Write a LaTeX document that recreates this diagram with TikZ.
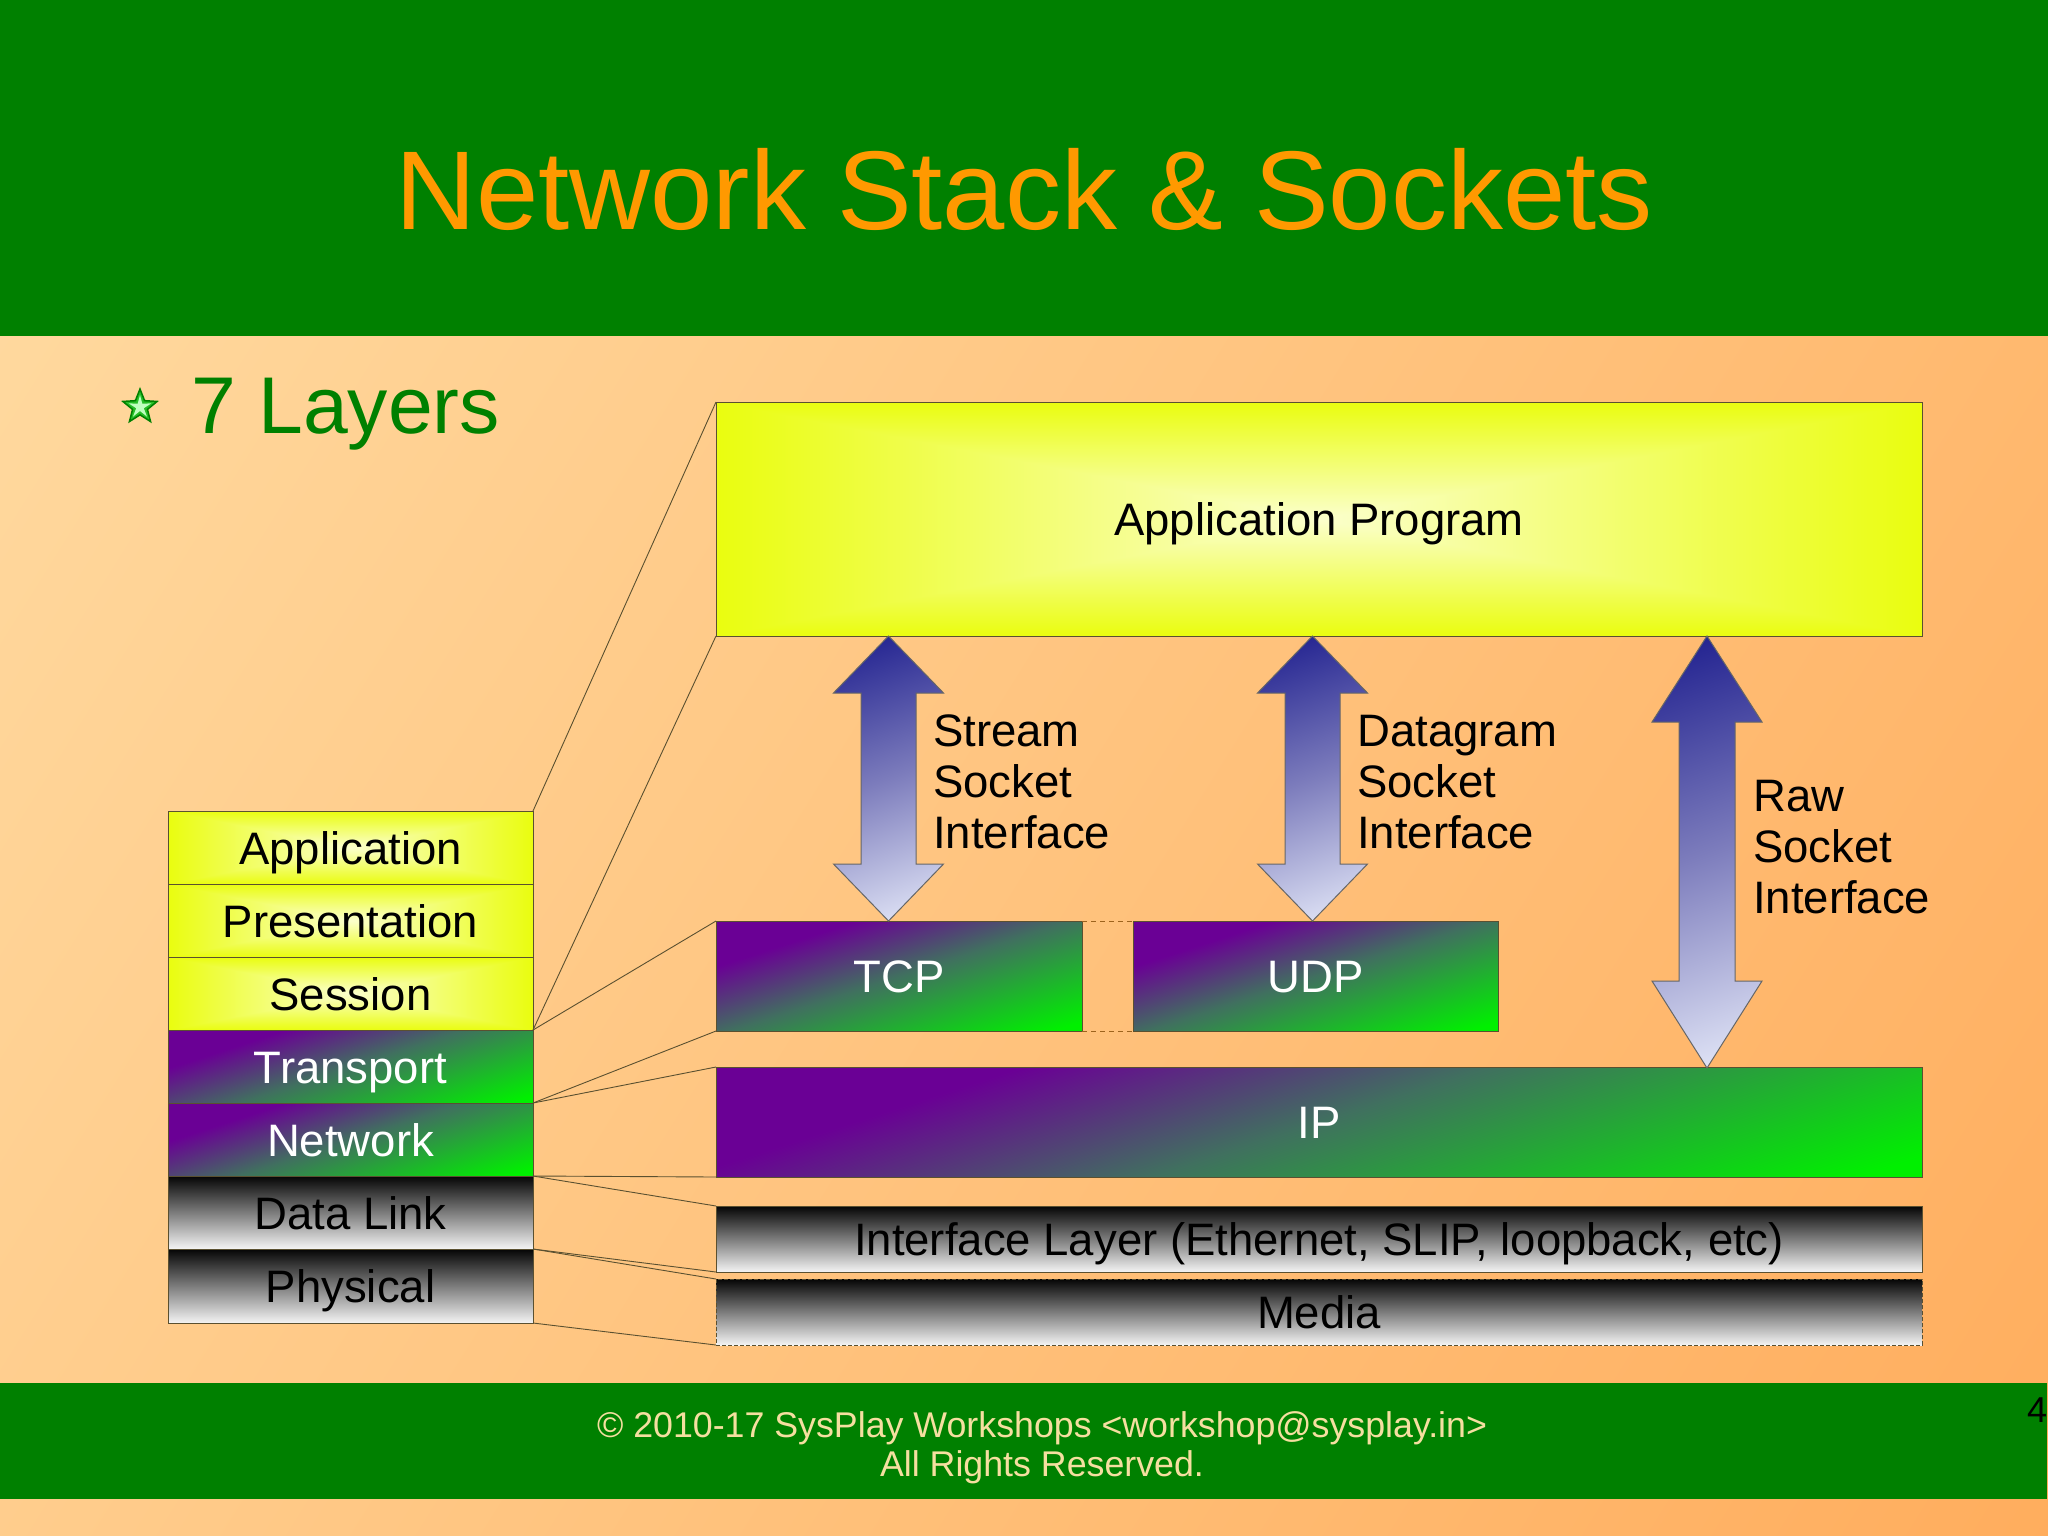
\documentclass[tikz,border=0pt]{standalone}
\usepackage{fontspec}
\setmainfont{Liberation Sans}
\usetikzlibrary{shapes.geometric}
\definecolor{hdrgreen}{HTML}{008000}
\definecolor{titleorange}{HTML}{FF9900}
\definecolor{footertext}{HTML}{F5DFA0}
\definecolor{edgecol}{HTML}{5A5030}
\definecolor{bgA}{HTML}{FFDEA6}
\definecolor{bgB}{HTML}{FFAB5A}
\definecolor{pgA}{HTML}{00F000}
\definecolor{pgM}{HTML}{40705F}
\definecolor{pgB}{HTML}{6A0095}
\definecolor{arA}{HTML}{E0E4F6}
\definecolor{arM}{HTML}{7C7CBC}
\definecolor{arB}{HTML}{222290}
\definecolor{kwA}{HTML}{F4F4F4}
\definecolor{kwB}{HTML}{050505}
\pgfdeclareverticalshading{bgshade}{100bp}{color(0bp)=(bgB); color(12bp)=(bgB); color(88bp)=(bgA); color(100bp)=(bgA)}
\pgfdeclareverticalshading{pgshade}{100bp}{color(0bp)=(pgA); color(21bp)=(pgA); color(50bp)=(pgM); color(69bp)=(pgB); color(100bp)=(pgB)}
\pgfdeclareverticalshading{arshade}{100bp}{color(0bp)=(arA); color(20bp)=(arA); color(50bp)=(arM); color(80bp)=(arB); color(100bp)=(arB)}
\pgfdeclareverticalshading{kwshade}{100bp}{color(0bp)=(kwA); color(25bp)=(kwA); color(75bp)=(kwB); color(100bp)=(kwB)}
% rectangular gradient: pale centre, saturated yellow rim
\pgfdeclarefunctionalshading{yelshade}{\pgfpoint{0bp}{0bp}}{\pgfpoint{100bp}{100bp}}{}{
 50 sub abs exch 50 sub abs 2 copy gt {pop} {exch pop} ifelse 27 div dup 1 gt {pop 1} if
 dup dup -0.075 mul 0.985 add 3 1 roll -0.01 mul 1.0 add exch -0.8 mul 0.8 add
}
\tikzset{
  layerbox/.style={draw=edgecol,line width=1pt,inner sep=0pt,outer sep=0pt,anchor=north west,
    text height=33pt,text depth=0pt,font=\fontsize{45.5}{51}\selectfont},
  yelbox/.style={layerbox,shade,shading=yelshade,text=black},
  purbox/.style={layerbox,shade,shading=pgshade,shading angle=18,text=white},
  kwbox/.style={layerbox,shade,shading=kwshade,text=black},
  sockarrow/.style={draw=black!60,line width=1pt,shade,shading=arshade,shading angle=20},
  linkline/.style={draw=edgecol,line width=.9pt},
  gapline/.style={draw=edgecol!60!orange,line width=1pt,dash pattern=on 5pt off 4pt},
  socklabel/.style={anchor=west,align=left,inner sep=0pt,font=\fontsize{45.5}{51}\selectfont,text=black},
  footertxt/.style={anchor=base,inner sep=0pt,text=footertext,font=\fontsize{35.75}{40}\selectfont},
}
\begin{document}
\begin{tikzpicture}[x=1pt,y=-1pt]
\useasboundingbox (0,0) rectangle (2048,1535);
\shade[shading=bgshade,shading angle=58] (0,0) rectangle (2048,1535);
\fill[hdrgreen] (0,0) rectangle (2048,336);
\fill[hdrgreen] (0,1383) rectangle (2047,1499);
\node[anchor=base,inner sep=0pt,text=titleorange,font=\fontsize{112}{120}\selectfont] (title) at (1024,229) {Network Stack \& Sockets};
\node[anchor=base west,inner sep=0pt,text=hdrgreen,font=\fontsize{80.5}{90}\selectfont] (sub) at (191,433) {7 Layers};
% bullet
\node[star,star points=5,star point ratio=2.3,minimum size=36pt,inner sep=0pt,fill=green!70!black!85,draw=green!50!black,line width=1.5pt] (bullet) at (140,407) {};
\node[star,star points=5,star point ratio=3,minimum size=24pt,inner sep=0pt,fill=white!75!green] (bulletin) at (140,407) {};
% OSI stack
\node[yelbox,minimum width=365pt,minimum height=73pt] (l7) at (168,811) {Application};
\node[yelbox,minimum width=365pt,minimum height=73pt] (l6) at (168,884) {Presentation};
\node[yelbox,minimum width=365pt,minimum height=73pt] (l5) at (168,957) {Session};
\node[purbox,minimum width=365pt,minimum height=73pt] (l4) at (168,1030) {Transport};
\node[purbox,minimum width=365pt,minimum height=73pt] (l3) at (168,1103) {Network};
\node[kwbox,minimum width=365pt,minimum height=73pt] (l2) at (168,1176) {Data Link};
\node[kwbox,minimum width=365pt,minimum height=74pt] (l1) at (168,1249) {Physical};
% TCP/IP stack
\node[yelbox,minimum width=1206pt,minimum height=234pt] (app) at (716,402) {Application Program};
\node[purbox,minimum width=366pt,minimum height=110pt] (tcp) at (716,921) {TCP};
\node[purbox,minimum width=365pt,minimum height=110pt] (udp) at (1133,921) {UDP};
\node[purbox,minimum width=1206pt,minimum height=110pt] (ip) at (716,1067) {IP};
\node[kwbox,minimum width=1206pt,minimum height=66pt] (iface) at (716,1206) {Interface Layer (Ethernet, SLIP, loopback, etc)};
\node[kwbox,dash pattern=on 4pt off 2pt,minimum width=1206pt,minimum height=66pt] (media) at (716,1279) {Media};
% connectors
\draw[linkline] (l7.north east) -- (app.north west);
\draw[linkline] (l5.south east) -- (app.south west);
\draw[linkline] (l5.south east) -- (tcp.north west);
\draw[linkline] (l4.south east) -- (tcp.south west);
\draw[linkline] (l4.south east) -- (ip.north west);
\draw[linkline] (l3.south east) -- (ip.south west);
\draw[linkline] (l3.south east) -- (iface.north west);
\draw[linkline] (l2.south east) -- (iface.south west);
\draw[linkline] (l2.south east) -- (media.north west);
\draw[linkline] (l1.south east) -- (media.south west);
\draw[gapline] (tcp.north east) -- (udp.north west);
\draw[gapline] (tcp.south east) -- (udp.south west);
% socket arrows
\path[sockarrow] (888.5,636) -- ++(55,57) -- ++(-27.5,0) -- ++(0,171) -- ++(27.5,0) -- ++(-55,57) -- ++(-55,-57) -- ++(27.5,0) -- ++(0,-171) -- ++(-27.5,0) -- cycle;
\path[sockarrow] (1312.5,636) -- ++(55,57) -- ++(-27.5,0) -- ++(0,171) -- ++(27.5,0) -- ++(-55,57) -- ++(-55,-57) -- ++(27.5,0) -- ++(0,-171) -- ++(-27.5,0) -- cycle;
\path[sockarrow] (1707,636) -- ++(55,86) -- ++(-27,0) -- ++(0,259) -- ++(27,0) -- ++(-55,87) -- ++(-55,-87) -- ++(27,0) -- ++(0,-259) -- ++(-27,0) -- cycle;
\node[socklabel] (s1) at (933,782) {Stream\\Socket\\Interface};
\node[socklabel] (s2) at (1357,782) {Datagram\\Socket\\Interface};
\node[socklabel] (s3) at (1753,847) {Raw\\Socket\\Interface};
% footer
\node[footertxt] (f1) at (1042,1437) {© 2010-17 SysPlay Workshops <workshop@sysplay.in>};
\node[footertxt] (f2) at (1042,1476) {All Rights Reserved.};
\node[anchor=base west,inner sep=0pt,text=black,font=\fontsize{36}{40}\selectfont] (pg) at (2027,1422) {4};
\end{tikzpicture}
\end{document}
